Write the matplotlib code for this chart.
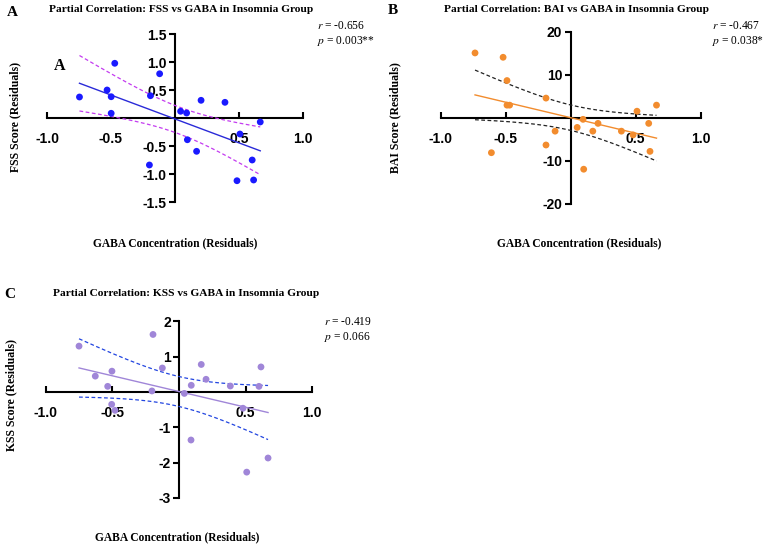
import numpy as np
import matplotlib
matplotlib.use("Agg")
import matplotlib.pyplot as plt

W, H = 767, 547

# ---------------- data ----------------
fss_gaba = [-0.746, -0.470, -0.530, -0.498, -0.498, -0.191, -0.119, 0.045, 0.092, 0.205,
            0.392, 0.668, 0.509, 0.098, 0.170, -0.199, 0.605, 0.486, 0.616]
fss_resid = [0.375, 0.977, 0.50, 0.38, 0.084, 0.398, 0.79, 0.12, 0.089, 0.316,
             0.28, -0.071, -0.286, -0.388, -0.595, -0.839, -0.75, -1.12, -1.107]

bai_gaba = [-0.736, -0.52, -0.49, -0.49, -0.47, -0.19, -0.61, -0.19, -0.12, 0.05,
            0.095, 0.10, 0.17, 0.21, 0.39, 0.48, 0.51, 0.60, 0.61, 0.66]
bai_resid = [15.06, 14.05, 8.64, 2.92, 2.92, 4.56, -8.14, -6.35, -3.13, -2.26,
             -0.38, -11.98, -3.13, -1.32, -3.13, -4.0, 1.51, -1.32, -7.83, 2.92]

kss_gaba = [-0.750, -0.628, -0.535, -0.503, -0.505, -0.480, -0.195, -0.203, -0.125, 0.040,
            0.092, 0.090, 0.167, 0.203, 0.385, 0.480, 0.508, 0.600, 0.615, 0.668]
kss_resid = [1.30, 0.45, 0.16, 0.59, -0.35, -0.52, 1.63, 0.03, 0.68, -0.04,
             0.19, -1.36, 0.78, 0.36, 0.17, -0.46, -2.27, 0.16, 0.71, -1.87]

titles = ["Partial Correlation: FSS vs GABA in Insomnia Group",
          "Partial Correlation: BAI vs GABA in Insomnia Group",
          "Partial Correlation: KSS vs GABA in Insomnia Group"]
ylabels = ["FSS Score (Residuals)", "BAI Score (Residuals)", "KSS Score (Residuals)"]
xlabel = "GABA Concentration (Residuals)"
r_texts = ["-0.656", "-0.467", "-0.419"]
p_texts = ["0.003**", "0.038*", "0.066"]
panel_letters = ["A", "B", "C"]

xticks = [-1.0, -0.5, 0.5, 1.0]
yticks_list = [[-1.5, -1.0, -0.5, 0.5, 1.0, 1.5],
               [-20, -10, 10, 20],
               [-3, -2, -1, 1, 2]]
ylims = [(-1.5, 1.5), (-20, 20), (-3, 2)]

point_colors = ["#1a1aff", "#f28c2e", "#a086d8"]
line_colors = ["#2a2ad8", "#f28c2e", "#a086d8"]
band_colors = ["#c43cf0", "#222222", "#2245e0"]

# t critical values (0.975) by degrees of freedom
T975 = {17: 2.110, 18: 2.101}

SERIF = "Liberation Serif"
SANS = "Liberation Sans"

fig = plt.figure(figsize=(W / 100, H / 100), dpi=100)


def fx(px):
    return px / W


def fy(py):
    return 1 - py / H


# axes rectangles in pixels: (x at -1, x at +1, y at top, y at bottom)
rects = [(47, 302.7, 34, 202), (440.7, 700.7, 31.7, 203.7), (45.7, 312.3, 321.4, 497.9)]

datasets = [(fss_gaba, fss_resid), (bai_gaba, bai_resid), (kss_gaba, kss_resid)]

for i, (xs, ys) in enumerate(datasets):
    x0, x1, yt, yb = rects[i]
    ax = fig.add_axes([fx(x0), fy(yb), (x1 - x0) / W, (yb - yt) / H])
    x = np.array(xs)
    y = np.array(ys)
    ax.set_xlim(-1, 1)
    ax.set_ylim(*ylims[i])

    # regression and 95% confidence band
    b, a = np.polyfit(x, y, 1)
    n = len(x)
    xx = np.linspace(x.min(), x.max(), 200)
    yy = a + b * xx
    resid = y - (a + b * x)
    s = np.sqrt(np.sum(resid ** 2) / (n - 2))
    se = s * np.sqrt(1 / n + (xx - x.mean()) ** 2 / np.sum((x - x.mean()) ** 2))
    t = T975.get(n - 2, 2.1)
    ax.plot(xx, yy, color=line_colors[i], lw=1.0, zorder=3)
    ax.plot(xx, yy + t * se, color=band_colors[i], lw=0.9, ls=(0, (3, 2)), zorder=3)
    ax.plot(xx, yy - t * se, color=band_colors[i], lw=0.9, ls=(0, (3, 2)), zorder=3)
    ax.scatter(x, y, s=24, color=point_colors[i], edgecolors="none", zorder=4)

    # axes crossing at origin
    for sp in ["top", "right"]:
        ax.spines[sp].set_visible(False)
    ax.spines["left"].set_position(("data", 0))
    ax.spines["bottom"].set_position(("data", 0))
    ax.spines["left"].set_linewidth(1.5)
    ax.spines["bottom"].set_linewidth(1.5)
    ax.patch.set_visible(False)

    ax.set_xticks(xticks)
    ax.set_xticklabels(["{:.1f}".format(v) for v in xticks])
    yt_vals = yticks_list[i]
    ax.set_yticks(yt_vals)
    if i == 0:
        ax.set_yticklabels(["{:.1f}".format(v) for v in yt_vals])
    else:
        ax.set_yticklabels(["{:d}".format(int(v)) for v in yt_vals])
    ax.tick_params(axis="x", direction="in", length=4.5, width=1.5, pad=10)
    ax.tick_params(axis="y", direction="out", length=4, width=1.5, pad=2)
    for lab in ax.get_xticklabels() + ax.get_yticklabels():
        lab.set_fontfamily(SANS)
        lab.set_fontweight("bold")
        lab.set_fontsize(10)

# titles, letters, labels, stats text
title_pos = [(181, 10), (577, 10), (186, 293)]
letter_pos = [(12, 12), (393, 11), (10, 294)]
ylabel_pos = [(15, 117), (395, 118), (11, 395)]
xlabel_pos = [(175, 243), (579, 243), (177, 537)]
rtext_pos = [(317, 26), (712, 26), (324, 322)]

for i in range(3):
    fig.text(fx(title_pos[i][0]), fy(title_pos[i][1]), titles[i], ha="center", va="center",
             family=SERIF, weight="bold", fontsize=8.2)
    fig.text(fx(letter_pos[i][0]), fy(letter_pos[i][1]), panel_letters[i], ha="center", va="center",
             family=SERIF, weight="bold", fontsize=11)
    fig.text(fx(ylabel_pos[i][0]), fy(ylabel_pos[i][1]), ylabels[i], ha="center", va="center",
             rotation=90, family=SERIF, weight="bold", fontsize=8.5)
    fig.text(fx(xlabel_pos[i][0]), fy(xlabel_pos[i][1]), xlabel, ha="center", va="center",
             family=SERIF, weight="bold", fontsize=8.3)
    fig.text(fx(rtext_pos[i][0]), fy(rtext_pos[i][1]), r"$r$ = " + r_texts[i], ha="left", va="center",
             family=SERIF, fontsize=8.3, math_fontfamily="stix")
    fig.text(fx(rtext_pos[i][0]), fy(rtext_pos[i][1] + 15.5), r"$p$ = " + p_texts[i], ha="left", va="center",
             family=SERIF, fontsize=8.3, math_fontfamily="stix")

# stray inner "A" in panel A
fig.text(fx(60), fy(66), "A", ha="center", va="center", family=SERIF, weight="bold", fontsize=11.5)

fig.savefig("out.png", dpi=100)
